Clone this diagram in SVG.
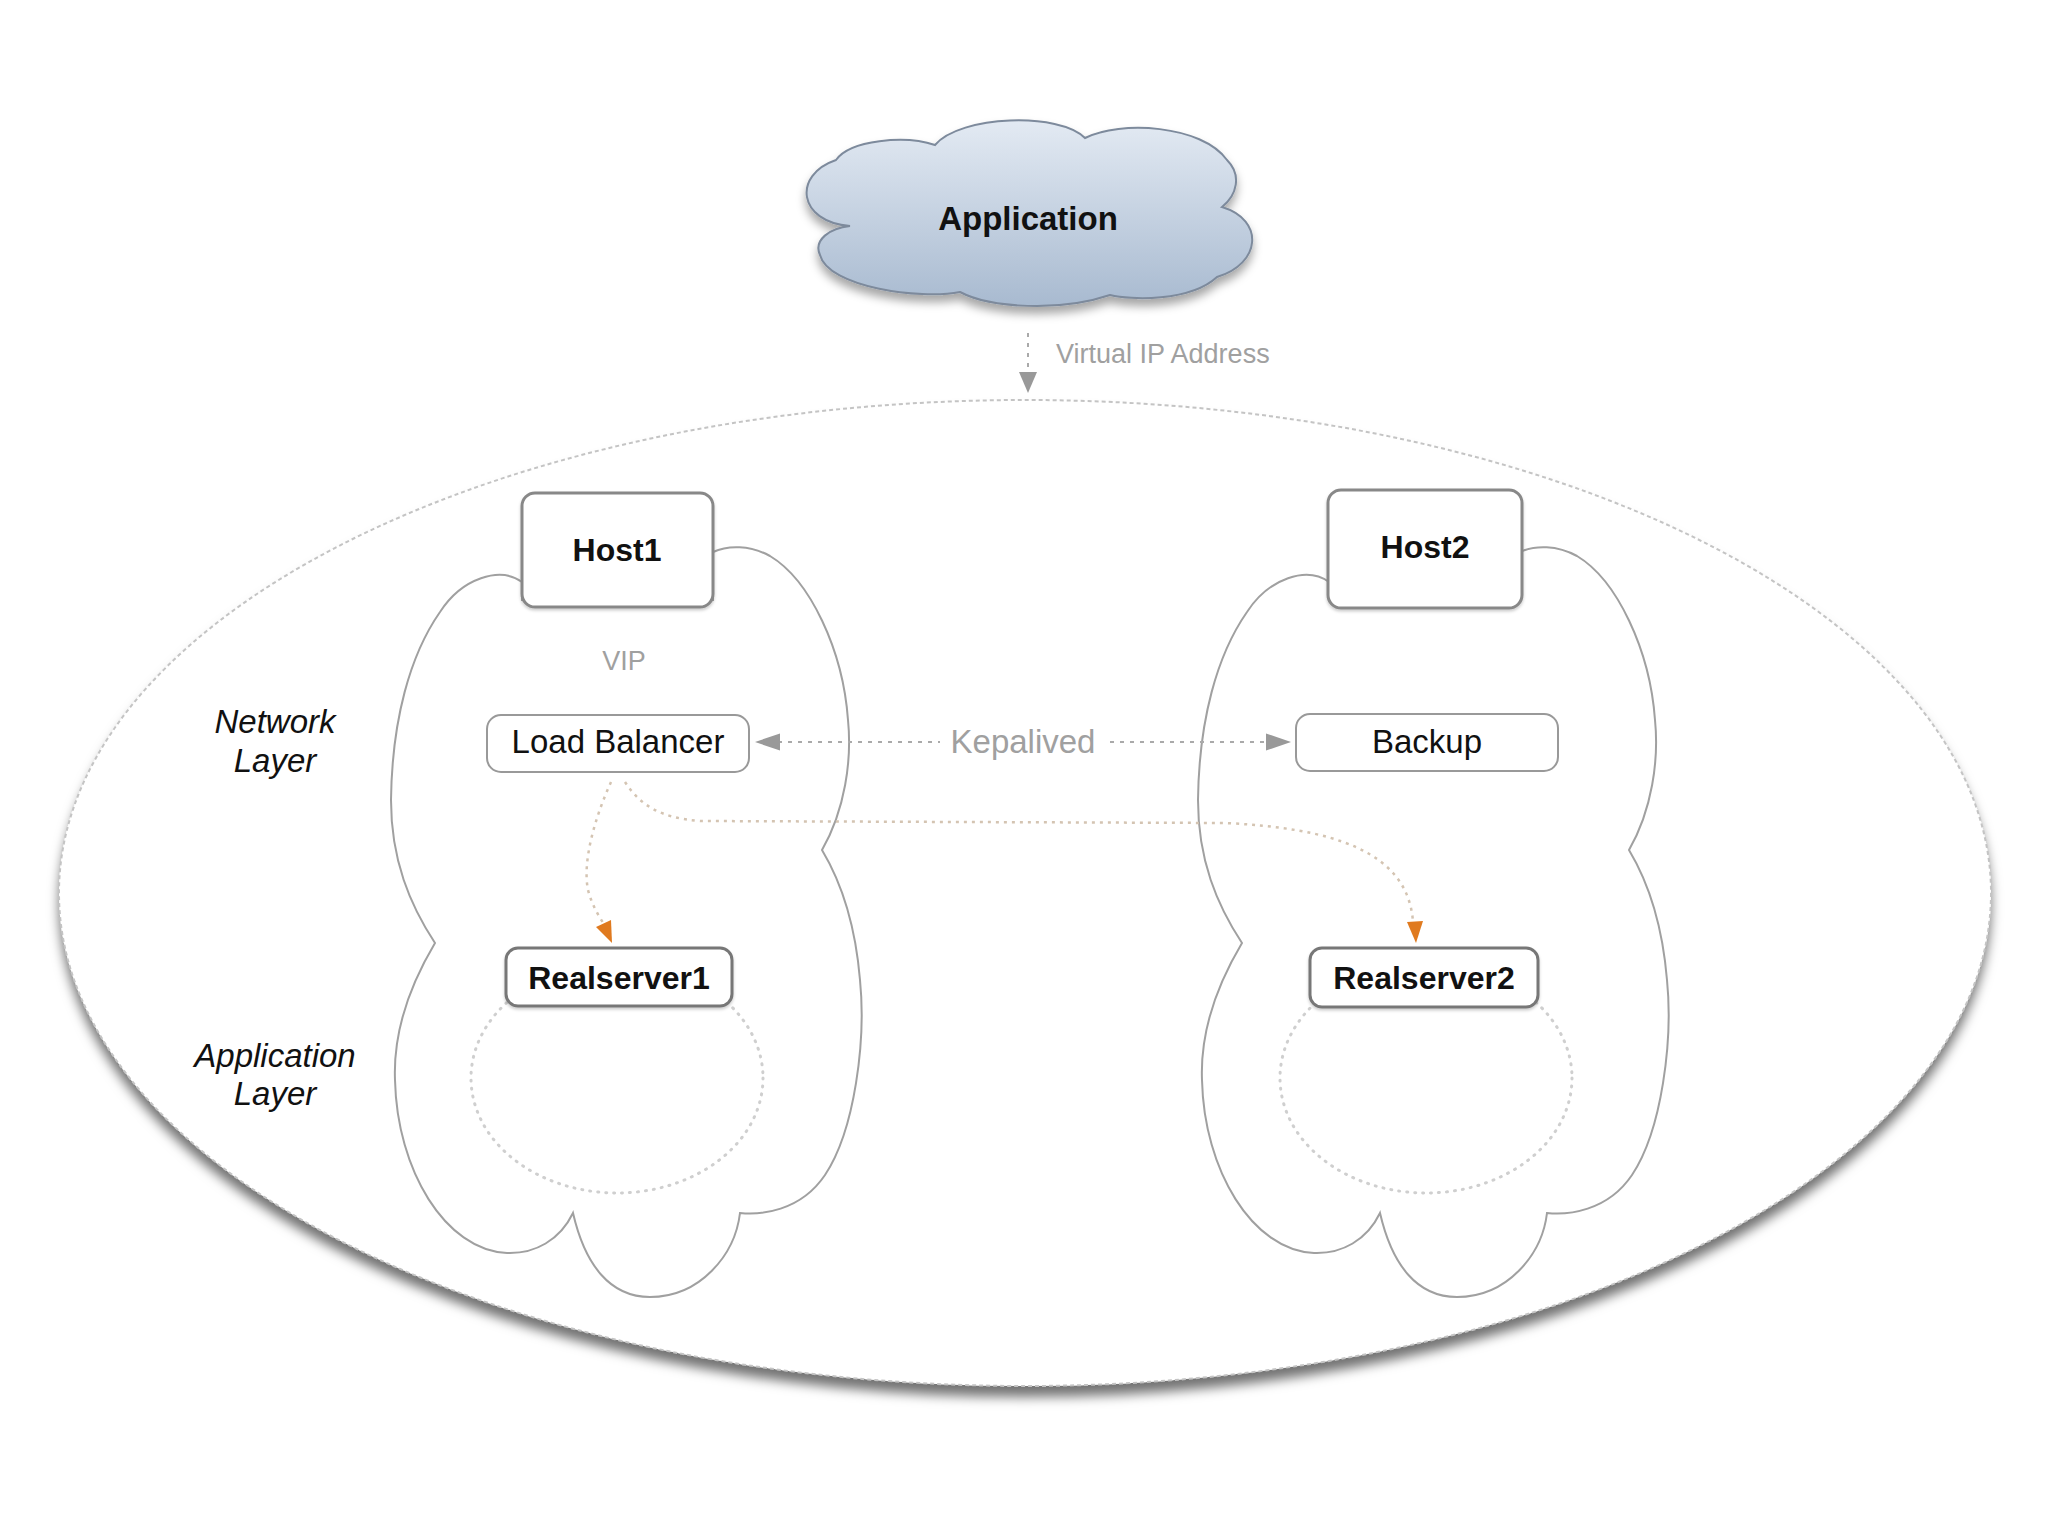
<svg xmlns="http://www.w3.org/2000/svg" width="2048" height="1536" viewBox="0 0 2048 1536">
<defs>
  <linearGradient id="cloudGrad" x1="0" y1="0" x2="0" y2="1">
    <stop offset="0" stop-color="#e3eaf3"/>
    <stop offset="1" stop-color="#a8bad0"/>
  </linearGradient>
  <filter id="shadowBig" x="-10%" y="-10%" width="120%" height="125%">
    <feDropShadow dx="0" dy="11" stdDeviation="6" flood-color="#000" flood-opacity="0.55"/>
  </filter>
  <filter id="shadowCloud" x="-10%" y="-10%" width="120%" height="140%">
    <feDropShadow dx="0" dy="7" stdDeviation="5" flood-color="#000" flood-opacity="0.35"/>
  </filter>
  <filter id="shadowBox" x="-10%" y="-10%" width="120%" height="130%">
    <feDropShadow dx="0" dy="2" stdDeviation="1.5" flood-color="#000" flood-opacity="0.2"/>
  </filter>
  <path id="hostCloud" d="M522,582 C500,566 462,578 440,612 C410,655 392,720 391,800 C391,860 410,905 435,943 C410,985 393,1030 395,1080 C397,1170 445,1250 507,1253 C535,1254 560,1240 573,1213 C585,1265 610,1297 650,1297 C700,1297 735,1255 740,1213 C760,1215 800,1212 825,1175 C855,1130 866,1040 860,980 C855,920 840,880 822,850 C845,810 852,760 848,720 C843,650 810,580 770,556 C750,545 728,545 713,552 L713,600 L522,600 Z"/>
</defs>
<style>
  .label { font-family: "Liberation Sans", Arial, sans-serif; }
  .bold { font-weight: bold; fill: #111; }
  .reg { fill: #111; }
  .gray { fill: #a0a0a0; }
  .ital { font-style: italic; fill: #111; }
  .hostbox { fill: #fff; stroke: #888; stroke-width: 3; }
  .pill { fill: #fff; stroke: #999; stroke-width: 2; }
  .rsbox { fill: #fff; stroke: #777; stroke-width: 3; }
  .hcloud { fill: #fff; stroke: #a0a0a0; stroke-width: 2; }
  .dotcircle { fill: none; stroke: #cfcfcf; stroke-width: 3; stroke-dasharray: 1 7; stroke-linecap: round; }
  .dash { fill: none; stroke: #aaa; stroke-width: 2; stroke-dasharray: 4 6; }
  .odash { fill: none; stroke: #d4c4b2; stroke-width: 2.5; stroke-dasharray: 3 5; }
</style>
<rect x="0" y="0" width="2048" height="1536" fill="#fff"/>

<g id="cluster">
  <ellipse cx="1025" cy="893" rx="966" ry="493" fill="#fff" filter="url(#shadowBig)"/>
  <ellipse cx="1025" cy="893" rx="966" ry="493" fill="none" stroke="#c4c4c4" stroke-width="2" stroke-dasharray="4 3"/>
</g>

<g id="layer-labels">
  <text class="label ital" x="275" y="733" font-size="33" text-anchor="middle">Network</text>
  <text class="label ital" x="275" y="772" font-size="33" text-anchor="middle">Layer</text>
  <text class="label ital" x="275" y="1067" font-size="33" text-anchor="middle">Application</text>
  <text class="label ital" x="275" y="1105" font-size="33" text-anchor="middle">Layer</text>
</g>

<g id="host1-cloud">
  <use href="#hostCloud" class="hcloud"/>
  <ellipse class="dotcircle" cx="617" cy="1078" rx="146" ry="115"/>
</g>
<g id="host2-cloud">
  <use href="#hostCloud" class="hcloud" transform="translate(807,0)"/>
  <ellipse class="dotcircle" cx="1426" cy="1078" rx="146" ry="115"/>
</g>

<g id="connectors">
  <!-- Virtual IP Address -->
  <line class="dash" x1="1028" y1="333" x2="1028" y2="373" stroke-dasharray="3 5"/>
  <polygon points="1028,393 1019,372 1037,372" fill="#999"/>
  <text class="label gray" x="1056" y="363" font-size="27">Virtual IP Address</text>
  <!-- Kepalived -->
  <line class="dash" x1="778" y1="742" x2="940" y2="742"/>
  <line class="dash" x1="1110" y1="742" x2="1268" y2="742"/>
  <polygon points="755,742 780,733.5 780,750.5" fill="#999"/>
  <polygon points="1291,742 1266,733.5 1266,750.5" fill="#999"/>
  <text class="label gray" x="1023" y="753" font-size="33" text-anchor="middle">Kepalived</text>
  <!-- LB to Realserver1 -->
  <path class="odash" d="M611,782 C596,815 582,860 588,890 C592,905 598,915 604,924"/>
  <polygon points="612,943 611,920 596,927" fill="#e07a1f"/>
  <!-- LB to Realserver2 -->
  <path class="odash" d="M625,782 C640,805 660,818 700,821 L1225,823 C1330,828 1408,850 1413,922"/>
  <polygon points="1416,943 1423,921 1407,922" fill="#e07a1f"/>
</g>

<g id="application">
  <path d="M850,226 C798,222 792,175 836,160 C850,140 905,135 935,145 C960,115 1060,112 1085,138 C1120,120 1202,125 1227,160 C1242,175 1237,195 1222,207 C1265,220 1261,264 1217,277 C1190,302 1130,300 1110,295 C1060,312 990,308 960,292 C920,300 828,287 820,255 C813,240 830,228 850,226 Z" fill="url(#cloudGrad)" stroke="#7d8a9c" stroke-width="2" filter="url(#shadowCloud)"/>
  <text class="label bold" x="1028" y="230" font-size="33" text-anchor="middle">Application</text>
</g>

<g id="host1">
  <rect class="hostbox" x="522" y="493" width="191" height="114" rx="13" filter="url(#shadowBox)"/>
  <text class="label bold" x="617" y="561" font-size="32" text-anchor="middle">Host1</text>
</g>
<g id="host2">
  <rect class="hostbox" x="1328" y="490" width="194" height="118" rx="13" filter="url(#shadowBox)"/>
  <text class="label bold" x="1425" y="558" font-size="32" text-anchor="middle">Host2</text>
</g>
<g id="vip">
  <text class="label gray" x="624" y="670" font-size="27" text-anchor="middle">VIP</text>
</g>
<g id="load-balancer">
  <rect class="pill" x="487" y="715" width="262" height="57" rx="14"/>
  <text class="label reg" x="618" y="753" font-size="33" text-anchor="middle">Load Balancer</text>
</g>
<g id="backup">
  <rect class="pill" x="1296" y="714" width="262" height="57" rx="14"/>
  <text class="label reg" x="1427" y="753" font-size="33" text-anchor="middle">Backup</text>
</g>
<g id="realserver1">
  <rect class="rsbox" x="506" y="948" width="226" height="58" rx="12" filter="url(#shadowBox)"/>
  <text class="label bold" x="619" y="989" font-size="32" text-anchor="middle">Realserver1</text>
</g>
<g id="realserver2">
  <rect class="rsbox" x="1310" y="948" width="228" height="59" rx="12" filter="url(#shadowBox)"/>
  <text class="label bold" x="1424" y="989" font-size="32" text-anchor="middle">Realserver2</text>
</g>
</svg>
